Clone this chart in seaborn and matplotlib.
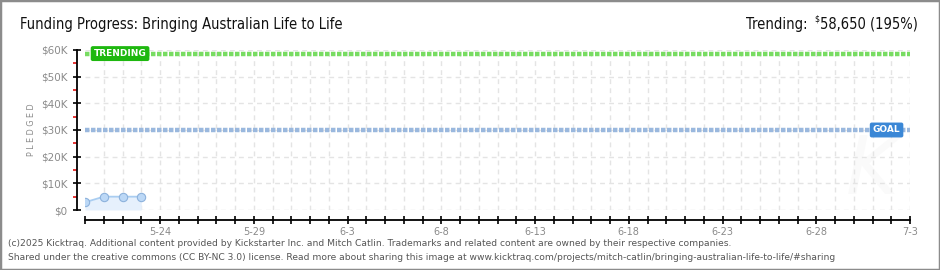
import matplotlib
matplotlib.use("Agg")
import matplotlib.pyplot as plt
import matplotlib.dates as mdates
import matplotlib.ticker as mticker
from matplotlib import font_manager
from matplotlib.font_manager import FontProperties
from matplotlib.patches import Rectangle
import seaborn as sns
import pandas as pd

# ---- data ----
dates = ["2025-05-20", "2025-05-21", "2025-05-22", "2025-05-23"]
pledged = [2900, 5000, 5000, 5000]
goal = 30000
trending = 58650
trending_pct = 195
x_start, x_end = "2025-05-20", "2025-07-03"
label_dates = ["2025-05-24", "2025-05-29", "2025-06-03", "2025-06-08", "2025-06-13",
               "2025-06-18", "2025-06-23", "2025-06-28", "2025-07-03"]
y_ticks = [0, 10000, 20000, 30000, 40000, 50000, 60000]
title = "Funding Progress: Bringing Australian Life to Life"
footer1 = ("(c)2025 Kicktraq. Additional content provided by Kickstarter Inc. and Mitch Catlin. "
           "Trademarks and related content are owned by their respective companies.")
footer2 = ("Shared under the creative commons (CC BY-NC 3.0) license. Read more about sharing this "
           "image at www.kicktraq.com/projects/mitch-catlin/bringing-australian-life-to-life/#sharing")

df = pd.DataFrame({"date": pd.to_datetime(dates), "pledged": pledged})

sns.set_theme(style="white")
plt.rcParams['font.family'] = ['DejaVu Sans']

# pick a narrow font if one is installed
narrow_file = None
for f in font_manager.fontManager.ttflist:
    if (("Narrow" in f.name or "Condensed" in f.name or str(f.stretch) in ("condensed", "semi-condensed"))
            and f.style == "normal" and str(f.weight) in ("400", "normal", "regular")):
        narrow_file = f.fname
        break

def title_fp(size):
    if narrow_file:
        return FontProperties(fname=narrow_file, size=size)
    return FontProperties(family="Liberation Sans", size=size)

W, H = 940, 270
fig = plt.figure(figsize=(W / 100, H / 100), dpi=100)
fig.patch.set_facecolor("white")

def fx(px):
    return px / W

def fy(py):
    return 1 - py / H

# faint watermark behind the plot
fig.text(fx(872), fy(172), "K", fontsize=58, style="italic", color="#fafafa",
         ha="center", va="center", zorder=-1)

ax = fig.add_axes([fx(85), fy(210), fx(910) - fx(85), fy(50) - fy(210)])
ax.patch.set_alpha(0)

x0 = pd.Timestamp(x_start)
x1 = pd.Timestamp(x_end)
days = pd.date_range(x0, x1, freq="D")

# grid
for d in days[1:]:
    ax.axvline(d, color="#e4e4e4", lw=1, ls=(0, (3.5, 3)), zorder=0)
for v in y_ticks:
    ax.axhline(v, color="#e4e4e4", lw=1, ls=(0, (3.5, 3)), zorder=0)

# goal & trending lines
ax.axhline(goal, color="#9ab8de", lw=3.2, ls=(0, (1.0, 0.35)), zorder=2)
ax.axhline(trending, color="#78dc62", lw=3.2, ls=(0, (1.0, 0.35)), zorder=2)

# pledged series
ax.fill_between(df["date"], df["pledged"], 0, color="#e6f0fc", zorder=3, lw=0)
sns.lineplot(data=df, x="date", y="pledged", ax=ax, color="#a9cdf1", linewidth=1.3,
             marker="o", markersize=6, markerfacecolor="#bcd8f6",
             markeredgecolor="#8db2dc", markeredgewidth=0.8, zorder=4)

ax.set_xlim(x0, x1)
ax.set_ylim(0, 60000)

# labels on lines
ax.text(x0 + pd.Timedelta(days=1.87), trending, "TRENDING", color="white", fontsize=6.5,
        fontweight="bold", ha="center", va="center", zorder=6,
        bbox=dict(boxstyle="round,pad=0.25,rounding_size=0.15", fc="#1eb80f", ec="#1eb80f"))
ax.text(x0 + pd.Timedelta(days=42.75), goal, "GOAL", color="white", fontsize=6.5,
        fontweight="bold", ha="center", va="center", zorder=6,
        bbox=dict(boxstyle="round,pad=0.25,rounding_size=0.15", fc="#3a87d6", ec="#3a87d6"))

# spines
for s in ["top", "right"]:
    ax.spines[s].set_visible(False)
ax.spines["left"].set_position(("outward", 5.8))
ax.spines["bottom"].set_position(("outward", 7.2))
ax.spines["left"].set_bounds(0, 60000)
ax.spines["bottom"].set_bounds(mdates.date2num(x0), mdates.date2num(x1))
for s in ["left", "bottom"]:
    ax.spines[s].set_color("black")
    ax.spines[s].set_linewidth(1.3)

# ticks
ax.xaxis.set_major_locator(mticker.FixedLocator(mdates.date2num(days)))
lab_set = set(pd.to_datetime(label_dates))
def xfmt(v, pos):
    d = pd.Timestamp(mdates.num2date(v)).tz_localize(None).normalize()
    return f"{d.month}-{d.day}" if d in lab_set else ""
ax.xaxis.set_major_formatter(mticker.FuncFormatter(xfmt))
ax.tick_params(axis="x", which="major", direction="inout", length=6, width=1.2,
               color="black", labelsize=7, labelcolor="#8a8a8a", pad=2, bottom=True)

ax.yaxis.set_major_locator(mticker.FixedLocator(y_ticks))
ax.yaxis.set_major_formatter(mticker.FuncFormatter(lambda v, p: "$0" if v == 0 else f"${int(v/1000)}K"))
ax.yaxis.set_minor_locator(mticker.FixedLocator([5000, 15000, 25000, 35000, 45000, 55000]))
ax.tick_params(axis="y", which="major", direction="inout", length=6, width=1.2,
               color="black", labelsize=7.5, labelcolor="#8a8a8a", pad=4, left=True)
ax.tick_params(axis="y", which="minor", direction="out", length=3, width=1.2,
               color="#e01010", left=True)
ax.set_xlabel("")
ax.set_ylabel("")
ax.grid(False)

# y label
fig.text(fx(31), fy(130), "P L E D G E D", rotation=90, ha="center", va="center",
         fontsize=5.8, color="#8a8a8a")

# title & trending (sizes fitted to the reference widths)
fig.canvas.draw()
r = fig.canvas.get_renderer()

t_title = fig.text(fx(20), fy(24), title, fontproperties=title_fp(12), color="#111111",
                   ha="left", va="center")
w = t_title.get_window_extent(r).width
tsize = 12 * 321.0 / w
t_title.set_fontproperties(title_fp(tsize))

t_main = fig.text(fx(918), fy(24), f"58,650 ({trending_pct}%)", fontproperties=title_fp(tsize),
                  color="#111111", ha="right", va="center")
bb = t_main.get_window_extent(r)
t_dollar = fig.text((bb.x0 - 0.5) / W, fy(19), "$", fontproperties=title_fp(tsize * 0.6),
                    color="#111111", ha="right", va="center")
bb2 = t_dollar.get_window_extent(r)
fig.text((bb2.x0 - 7) / W, fy(24), "Trending:", fontproperties=title_fp(tsize),
         color="#111111", ha="right", va="center")

# footer
fig.text(fx(8), fy(243), footer1, fontsize=6.6, color="#555555", ha="left", va="center")
fig.text(fx(8), fy(258), footer2, fontsize=6.6, color="#555555", ha="left", va="center")

# border
fig.patches.append(Rectangle((0, 0), 1, 1, transform=fig.transFigure, fill=False,
                             ec="#8c8c8c", lw=2.5, zorder=10))

fig.savefig("out.png", dpi=100, facecolor="white")
